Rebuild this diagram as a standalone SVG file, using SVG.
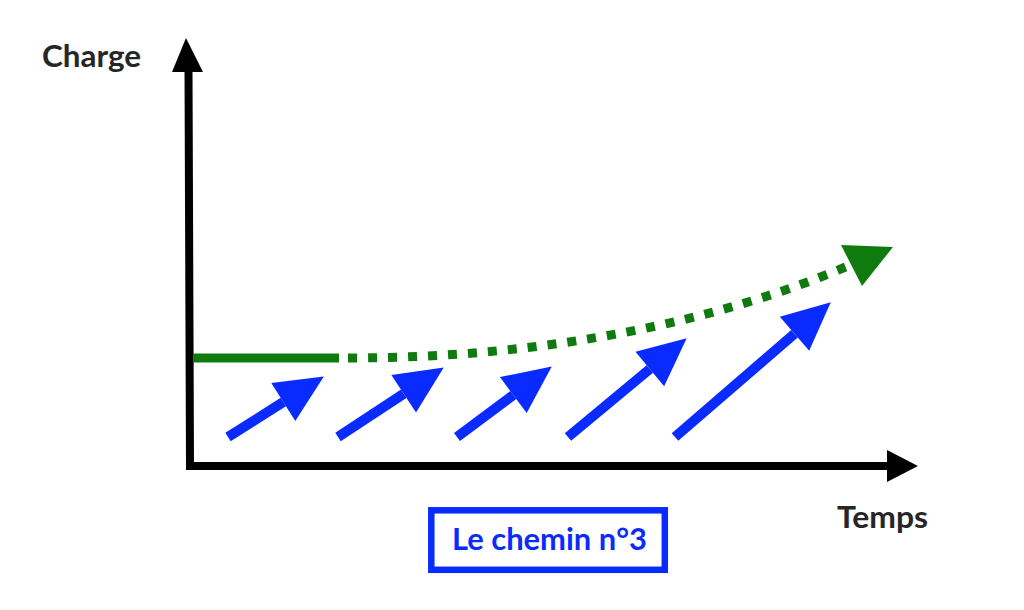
<svg xmlns="http://www.w3.org/2000/svg" width="1024" height="610" viewBox="0 0 1024 610">
<style>
.lbl{font-family:Lato,"Open Sans","Liberation Sans",sans-serif;font-weight:700;font-size:30px;fill:#262626}
.blue{stroke:#0a2bff;stroke-width:10;fill:none;marker-end:url(#bh)}
.title{font-family:Lato,"Open Sans","Liberation Sans",sans-serif;font-weight:700;font-size:31px;fill:#0a2bff}
</style>
<defs>
<marker id="bh" markerUnits="userSpaceOnUse" markerWidth="50" markerHeight="50" viewBox="-1 -23 49 46" refX="0" refY="0" orient="auto">
<path d="M0,-22 L47,0 L0,22 Z" fill="#0a2bff"/>
</marker>
</defs>
<rect width="1024" height="610" fill="#fff"/>
<g id="axes">
<path d="M188.5,70 L190,466 L889,466" fill="none" stroke="#000" stroke-width="8"/>
<polygon points="186,38 203,72 172,72" fill="#000"/>
<polygon points="918,466 887,450 887,482" fill="#000"/>
</g>
<g id="labels">
<text class="lbl" x="42" y="67" textLength="99" lengthAdjust="spacingAndGlyphs">Charge</text>
<text class="lbl" x="837" y="528" textLength="91" lengthAdjust="spacingAndGlyphs">Temps</text>
</g>
<g id="curve">
<line x1="193" y1="358" x2="339" y2="358" stroke="#0f7b0f" stroke-width="9"/>
<path d="M348,358 C550,358 720,320 848,266" fill="none" stroke="#0f7b0f" stroke-width="9" stroke-dasharray="9 11"/>
<polygon points="841,245 893,247 862,286" fill="#0f7b0f"/>
</g>
<g id="connectors">
<line class="blue" x1="228" y1="437" x2="283.3" y2="402.1"/>
<line class="blue" x1="338" y1="437" x2="403.7" y2="393.8"/>
<line class="blue" x1="457" y1="437" x2="513.3" y2="395.1"/>
<line class="blue" x1="568" y1="437" x2="649.8" y2="369"/>
<line class="blue" x1="675" y1="437" x2="794.5" y2="333.7"/>
</g>
<g id="caption">
<rect x="431.3" y="510.3" width="233.5" height="59.5" fill="#fff" stroke="#0a2bff" stroke-width="6.5"/>
<text class="title" x="452" y="550" textLength="195" lengthAdjust="spacingAndGlyphs">Le chemin n°3</text>
</g>
</svg>
